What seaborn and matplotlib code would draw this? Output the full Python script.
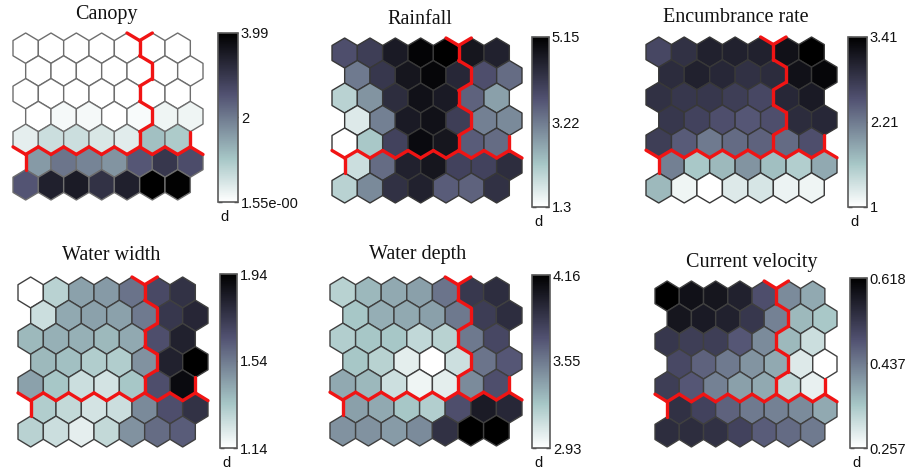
import numpy as np
import matplotlib
matplotlib.use("Agg")
import matplotlib.pyplot as plt
import seaborn as sns
from matplotlib.collections import PolyCollection, LineCollection
from matplotlib.colors import Normalize

# ---- component planes of a 7 x 7 hexagonal SOM (rows listed top to bottom) ----
titles = ["Canopy", "Rainfall", "Encumbrance rate",
          "Water width", "Water depth", "Current velocity"]

canopy = [
    [0.00, 0.00, 0.00, 0.00, 0.00, 0.00, 0.00],
    [0.00, 0.00, 0.00, 0.00, 0.00, 0.00, 0.00],
    [0.00, 0.00, 0.00, 0.00, 0.00, 0.00, 0.00],
    [0.00, 0.12, 0.12, 0.00, 0.08, 0.20, 0.20],
    [0.30, 0.60, 0.60, 0.45, 0.35, 1.10, 0.95],
    [1.60, 2.07, 1.88, 1.68, 2.47, 3.00, 2.63],
    [2.50, 3.40, 3.50, 3.10, 3.40, 3.99, 3.95],
]
rainfall = [
    [3.80, 4.07, 4.69, 5.07, 5.15, 4.77, 4.57],
    [3.23, 4.19, 4.77, 5.03, 4.46, 3.80, 3.42],
    [2.07, 2.92, 4.38, 4.84, 4.69, 3.53, 2.76],
    [1.69, 3.15, 4.69, 4.84, 4.07, 3.15, 3.03],
    [1.30, 2.26, 4.00, 4.96, 4.77, 3.61, 3.42],
    [1.88, 3.42, 4.57, 4.77, 4.00, 4.00, 4.38],
    [2.07, 3.03, 4.30, 4.57, 3.61, 3.53, 4.30],
]
encumbrance = [
    [2.64, 2.88, 3.05, 3.05, 3.05, 3.22, 3.41],
    [2.93, 3.05, 2.98, 2.88, 2.93, 3.22, 3.34],
    [2.88, 2.81, 2.81, 2.74, 2.64, 2.98, 3.12],
    [2.81, 2.69, 2.57, 2.49, 2.57, 2.93, 2.98],
    [2.74, 2.45, 2.21, 2.33, 2.40, 2.33, 2.57],
    [2.16, 1.60, 1.72, 2.01, 1.67, 1.53, 1.84],
    [1.72, 1.12, 1.00, 1.24, 1.29, 1.14, 1.12],
]
water_width = [
    [1.14, 1.30, 1.44, 1.46, 1.56, 1.68, 1.76],
    [1.26, 1.42, 1.44, 1.44, 1.54, 1.74, 1.80],
    [1.38, 1.40, 1.40, 1.38, 1.42, 1.66, 1.82],
    [1.38, 1.36, 1.32, 1.32, 1.48, 1.82, 1.94],
    [1.44, 1.34, 1.26, 1.24, 1.34, 1.66, 1.90],
    [1.32, 1.28, 1.24, 1.26, 1.50, 1.66, 1.76],
    [1.30, 1.26, 1.20, 1.28, 1.48, 1.58, 1.62],
]
water_depth = [
    [3.18, 3.30, 3.36, 3.40, 3.57, 3.85, 3.91],
    [3.24, 3.34, 3.36, 3.40, 3.55, 3.82, 3.91],
    [3.20, 3.24, 3.24, 3.15, 3.18, 3.55, 3.77],
    [3.24, 3.18, 3.03, 2.93, 3.11, 3.57, 3.69],
    [3.36, 3.30, 3.11, 2.99, 3.03, 3.48, 3.73],
    [3.40, 3.36, 3.24, 3.20, 3.73, 4.01, 3.94],
    [3.45, 3.45, 3.42, 3.48, 3.89, 4.16, 4.16],
]
current_velocity = [
    [0.618, 0.589, 0.582, 0.564, 0.492, 0.419, 0.383],
    [0.582, 0.575, 0.564, 0.528, 0.430, 0.365, 0.347],
    [0.528, 0.517, 0.517, 0.481, 0.419, 0.365, 0.311],
    [0.502, 0.466, 0.438, 0.409, 0.383, 0.293, 0.257],
    [0.517, 0.481, 0.430, 0.394, 0.383, 0.322, 0.282],
    [0.539, 0.510, 0.466, 0.438, 0.430, 0.419, 0.383],
    [0.546, 0.546, 0.539, 0.510, 0.474, 0.456, 0.438],
]
planes = [canopy, rainfall, encumbrance, water_width, water_depth, current_velocity]

# colour bar ranges (min, mid, max) and their printed labels
cbar_values = [
    [1.55e-16, 2.0, 3.99],
    [1.30, 3.22, 5.15],
    [1.00, 2.21, 3.41],
    [1.14, 1.54, 1.94],
    [2.93, 3.55, 4.16],
    [0.257, 0.437, 0.618],
]
cbar_labels = [
    ["1.55e-00", "2", "3.99"],
    ["1.3", "3.22", "5.15"],
    ["1", "2.21", "3.41"],
    ["1.14", "1.54", "1.94"],
    ["2.93", "3.55", "4.16"],
    ["0.257", "0.437", "0.618"],
]

# cluster of every map unit: 0 = upper left, 1 = upper right, 2 = bottom rows
clusters = [
    [0, 0, 0, 0, 0, 1, 1],
    [0, 0, 0, 0, 0, 1, 1],
    [0, 0, 0, 0, 0, 1, 1],
    [0, 0, 0, 0, 0, 1, 1],
    [0, 0, 0, 0, 0, 1, 1],
    [2, 2, 2, 2, 2, 2, 2],
    [2, 2, 2, 2, 2, 2, 2],
]
# border edges drawn along the outside of the map: (row, col, edge)
outer_border_edges = [(0, 4, "ur"), (0, 5, "ul"), (4, 0, "ll"),
                      (5, 0, "l"), (4, 6, "r"), (5, 6, "ur")]

# ---- layout, in pixels of a 916 x 471 canvas ----
W, H = 916, 471
map_boxes = [(13, 33, 203, 200), (332, 38, 522, 203), (646, 37, 837, 203),
             (18, 277, 208, 447), (330, 277, 522, 446), (655, 281, 837, 447)]
cbar_boxes = [(218, 33, 238, 202), (532, 37, 549, 207), (848, 37, 867, 207),
              (220, 274, 237, 448), (532, 275, 550, 448), (850, 278, 867, 448)]
title_pos = [(106, 15), (420, 20), (736, 18), (111, 255), (418, 255), (752, 262)]
edge_colors = ["#6e6e6e", "#383838", "#383838", "#404040", "#404040", "#404040"]


def fig_box(x0, y0, x1, y1):
    return [x0 / W, 1 - y1 / H, (x1 - x0) / W, (y1 - y0) / H]


sns.set_theme(style="white")
plt.rcParams["font.family"] = ["Liberation Sans", "DejaVu Sans"]
cmap = sns.color_palette("bone_r", as_cmap=True)

RH = 1 / np.sqrt(3)          # hexagon circumradius (unit spacing)
DY = np.sqrt(3) / 2          # vertical distance between rows
ANGLES = np.deg2rad([90, 30, -30, -90, -150, 150])
EDGE_IDX = {"ur": 0, "r": 1, "lr": 2, "ll": 3, "l": 4, "ul": 5}


def center(r, c):
    return c + 0.5 * (r % 2), -r * DY


def vertices(r, c):
    x, y = center(r, c)
    return np.column_stack([x + RH * np.cos(ANGLES), y + RH * np.sin(ANGLES)])


def edge(r, c, k):
    v = vertices(r, c)
    return [v[k], v[(k + 1) % 6]]


def neighbour(r, c, k):
    odd = r % 2
    if k == 1:
        return r, c + 1
    if k == 4:
        return r, c - 1
    dr = -1 if k in (0, 5) else 1
    dc = (1 if odd else 0) if k in (0, 2) else (0 if odd else -1)
    return r + dr, c + dc


nrows, ncols = len(clusters), len(clusters[0])
border = []
for r in range(nrows):
    for c in range(ncols):
        for k in range(6):
            rr, cc = neighbour(r, c, k)
            if 0 <= rr < nrows and 0 <= cc < ncols and (rr, cc) > (r, c):
                if clusters[rr][cc] != clusters[r][c]:
                    border.append(edge(r, c, k))
for r, c, name in outer_border_edges:
    border.append(edge(r, c, EDGE_IDX[name]))

polys = [vertices(r, c) for r in range(nrows) for c in range(ncols)]

fig = plt.figure(figsize=(W / 100, H / 100), dpi=100)
fig.patch.set_facecolor("white")

for i, plane in enumerate(planes):
    lo, mid, hi = cbar_values[i]
    norm = Normalize(vmin=lo, vmax=hi)
    ax = fig.add_axes(fig_box(*map_boxes[i]))
    pc = PolyCollection(polys, array=np.asarray(plane, float).ravel(), cmap=cmap,
                        norm=norm, edgecolors=edge_colors[i], linewidths=1.0,
                        clip_on=False)
    ax.add_collection(pc)
    lc = LineCollection(border, colors="#f01414", linewidths=2.4,
                        capstyle="round", joinstyle="round", clip_on=False, zorder=3)
    ax.add_collection(lc)
    ax.set_xlim(-0.5, ncols + 0.0)
    ax.set_ylim(-(nrows - 1) * DY - RH, RH)
    ax.axis("off")

    cax = fig.add_axes(fig_box(*cbar_boxes[i]))
    cb = fig.colorbar(pc, cax=cax, ticks=[lo, mid, hi])
    cb.set_ticklabels(cbar_labels[i])
    cb.outline.set_edgecolor("#5a5a5a")
    cb.outline.set_linewidth(1.2)
    cax.tick_params(axis="y", direction="in", length=3, width=1, color="#333333",
                    labelsize=10.5, labelcolor="#111111", pad=2,
                    left=True, right=True)
    x0, y0, x1, y1 = cbar_boxes[i]
    fig.text((x0 + 2) / W, 1 - (y1 + 15) / H, "d", fontsize=10.5,
             color="#111111", va="center", ha="left")

    tx, ty = title_pos[i]
    fig.text(tx / W, 1 - ty / H, titles[i], fontsize=14.5, ha="center",
             va="center", family=["Liberation Serif", "DejaVu Serif"],
             color="#111111")

fig.savefig("out.png", dpi=100, facecolor="white")
